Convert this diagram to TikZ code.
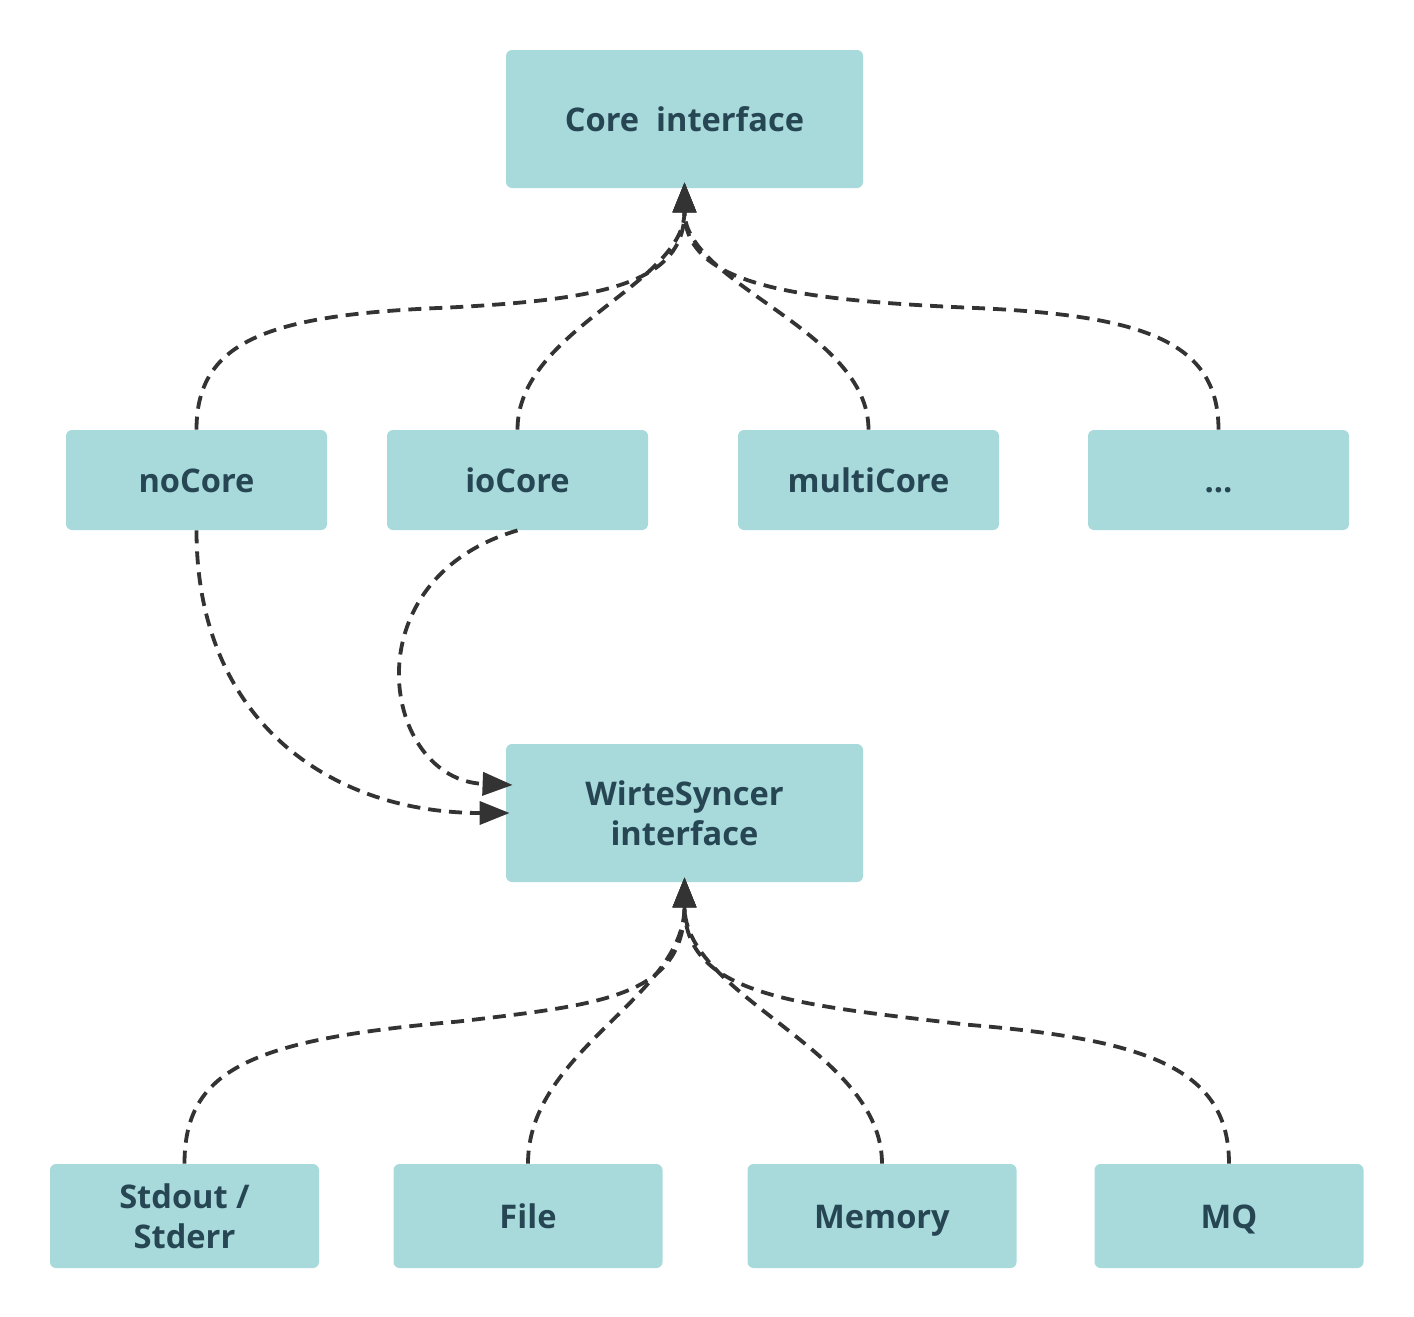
\documentclass[tikz,border=0pt]{standalone}
\usepackage{fontspec}
\setmainfont{Open Sans}
\usetikzlibrary{arrows.meta}
\definecolor{boxfill}{HTML}{A8DADC}
\definecolor{boxtext}{HTML}{264653}
\definecolor{linec}{HTML}{333333}
\tikzset{
  box/.style={rectangle, rounded corners=3pt, fill=boxfill, text=boxtext,
    font=\fontsize{16.3}{20}\selectfont\bfseries, align=center, inner sep=0pt},
  oneline/.style={text height=12pt, text depth=0pt},
  bigbox/.style={box, minimum width=178.5pt, minimum height=69pt},
  midbox/.style={box, oneline, minimum width=130.5pt, minimum height=50pt},
  lowbox/.style={box, minimum width=134.5pt, minimum height=52pt},
  conn/.style={draw=linec, line width=1.9pt, dash pattern=on 6.5pt off 4pt,
    -{Triangle[length=15pt,width=11.5pt]}},
}
\begin{document}
\begin{tikzpicture}[x=0.5pt,y=-0.5pt]
\useasboundingbox (0,0) rectangle (1414,1317);
% nodes
\node[bigbox, oneline] (core) at (684.5,119) {Core\ \ interface};
\node[midbox] (nocore) at (196.5,480) {noCore};
\node[midbox] (iocore) at (517.5,480) {ioCore};
\node[midbox] (multicore) at (868.5,480) {multiCore};
\node[midbox] (more) at (1218.5,480) {...};
\node[bigbox] (ws) at (684.5,813) {WirteSyncer\\interface};
\node[lowbox] (std) at (184.5,1216) {Stdout /\\ Stderr};
\node[lowbox, oneline] (file) at (528,1216) {File};
\node[lowbox, oneline] (mem) at (882,1216) {Memory};
\node[lowbox, oneline] (mq) at (1229,1216) {MQ};
% top connectors
\coordinate (coretip) at ([yshift=3pt]core.south);
\draw[conn] (nocore.north) .. controls +(0,-90) and +(-177,7) .. ++(251,-122)
  .. controls +(153,-8) and +(0,102) .. (coretip);
\draw[conn] (iocore.north) .. controls +(0,-100) and +(0,102) .. (coretip);
\draw[conn] (multicore.north) .. controls +(0,-100) and +(0,102) .. (coretip);
\draw[conn] (more.north) .. controls +(0,-90) and +(174,7) .. ++(-252,-122)
  .. controls +(-176,-8) and +(0,102) .. (coretip);
% middle connectors
\coordinate (wstipA) at ([xshift=2pt]ws.west);
\coordinate (wstipB) at ([xshift=3.5pt,yshift=14pt]ws.west);
\draw[conn] (nocore.south) .. controls +(0,190) and +(-180,0) .. (wstipA);
\draw[conn] (iocore.south) .. controls +(-170,50) and +(-130,-5) .. (wstipB);
% bottom connectors
\coordinate (wstip) at ([yshift=2.5pt]ws.south);
\draw[conn] (std.north) .. controls +(0,-94) and +(-207,18) .. ++(273,-142)
  .. controls +(143,-17) and +(0,120) .. (wstip);
\draw[conn] (file.north) .. controls +(0,-114) and +(0,120) .. (wstip);
\draw[conn] (mem.north) .. controls +(0,-114) and +(0,120) .. (wstip);
\draw[conn] (mq.north) .. controls +(0,-94) and +(184,15) .. ++(-263,-139)
  .. controls +(-166,-20) and +(0,120) .. (wstip);
\end{tikzpicture}
\end{document}
